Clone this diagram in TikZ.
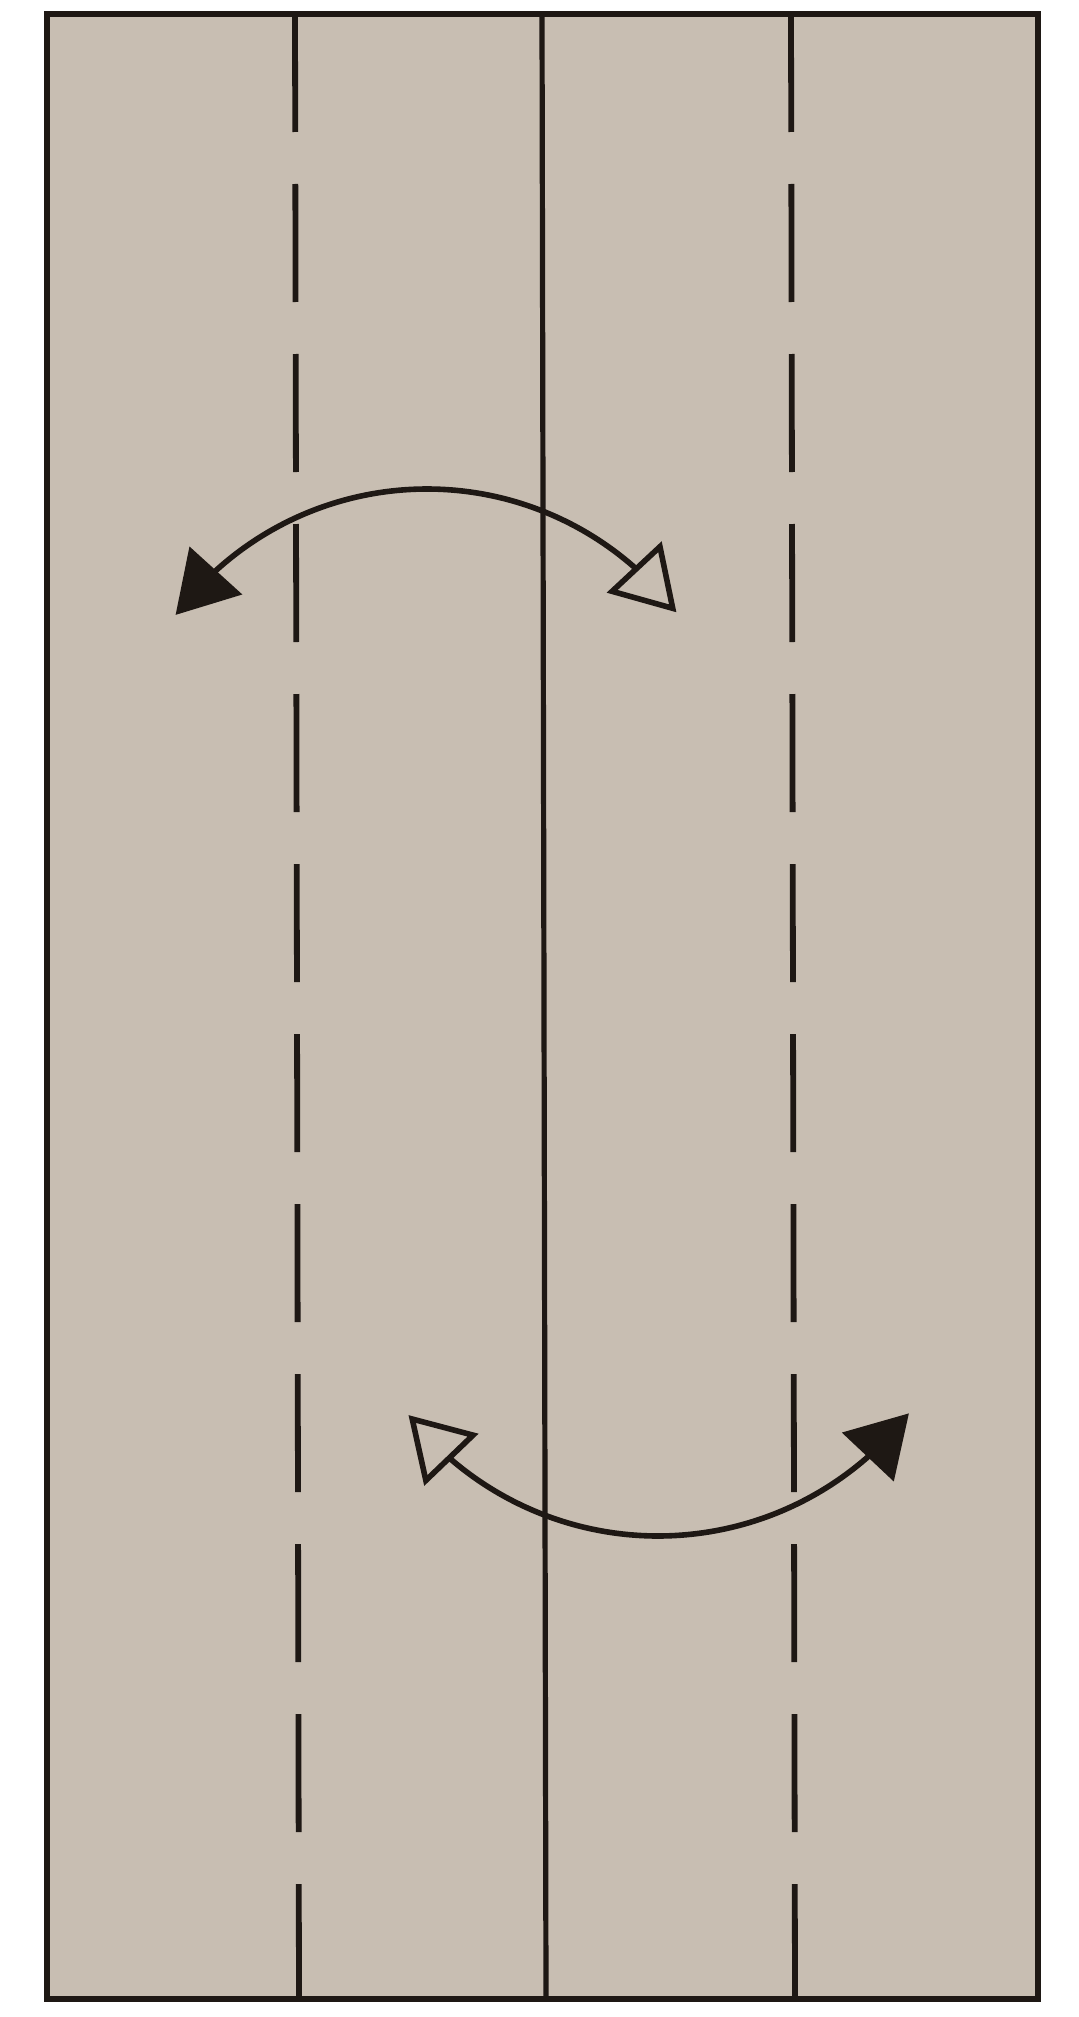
\documentclass[tikz,border=0pt]{standalone}
\usetikzlibrary{arrows.meta,bending}
\definecolor{paper}{RGB}{200,190,178}
\definecolor{ink}{RGB}{30,24,20}
\tikzset{
  border/.style={draw=ink,line width=3pt,fill=paper},
  foldline/.style={draw=ink,line width=2.6pt},
  valley/.style={draw=ink,line width=2.9pt,dash pattern=on 59pt off 26pt},
  turn/.style={draw=ink,line width=2.8pt},
}
\begin{document}
\begin{tikzpicture}[x=0.5pt,y=0.5pt]
\useasboundingbox (0,0) rectangle (1079,-2017);
% sheet
\coordinate (tl) at (47,-14);
\coordinate (br) at (1038,-1999);
\draw[border] (tl) rectangle (br);
% fold lines
\coordinate (lt) at (295,-14);  \coordinate (lb) at (299,-1999);
\coordinate (ct) at (542,-14);  \coordinate (cb) at (546,-1999);
\coordinate (rt) at (791,-14);  \coordinate (rb) at (795,-1999);
\draw[valley] (lt) -- (lb);
\draw[foldline] (ct) -- (cb);
\draw[valley] (rt) -- (rb);
% turn-over arrows
\coordinate (topc) at (427,-803);
\coordinate (botc) at (658,-1218);
\draw[turn,{Triangle[length=30pt,width=35pt,fill=ink,flex]}-{Triangle[open,length=31pt,width=37pt,fill=paper,flex]}]
  (topc) ++(143.2:157pt) arc[start angle=143.2,end angle=37.4,radius=157pt];
\draw[turn,{Triangle[open,length=31pt,width=37pt,fill=paper,flex]}-{Triangle[length=30pt,width=35pt,fill=ink,flex]}]
  (botc) ++(-141.7:159pt) arc[start angle=-141.7,end angle=-37.9,radius=159pt];
\end{tikzpicture}
\end{document}
